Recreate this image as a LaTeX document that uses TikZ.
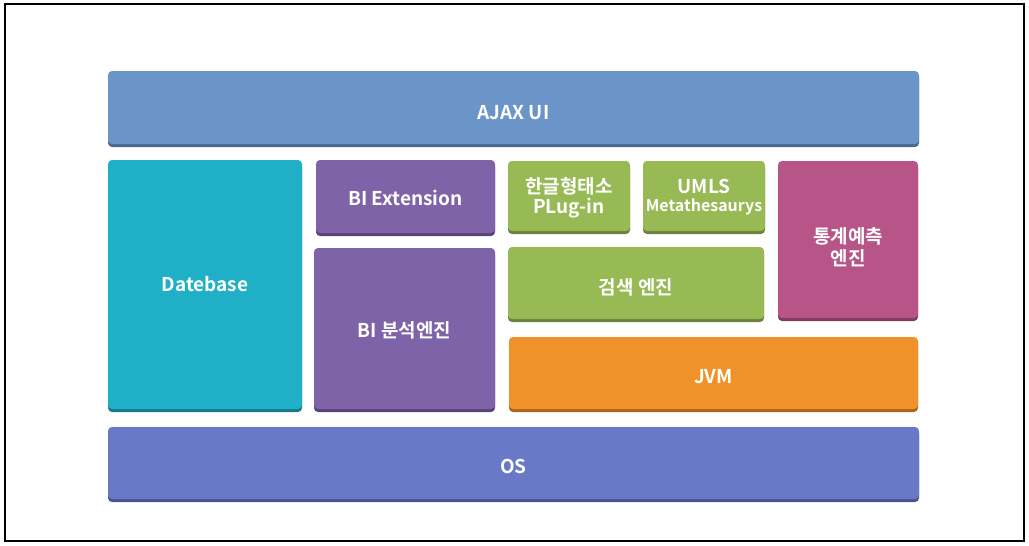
\documentclass[tikz,border=0pt]{standalone}
\usepackage{fontspec}
\setmainfont{Noto Sans CJK KR}[BoldFont={Noto Sans CJK KR Bold}]
\begin{document}
\begin{tikzpicture}[x=1pt,y=-1pt,
  blk/.style={rounded corners=4pt, text=white, font=\bfseries\fontsize{19}{22}\selectfont, align=center},
]
\definecolor{cajax}{HTML}{6B95C8}
\definecolor{cdb}{HTML}{1FAFC6}
\definecolor{cbi}{HTML}{7E63A8}
\definecolor{cgr}{HTML}{97BA55}
\definecolor{cpk}{HTML}{B75589}
\definecolor{cor}{HTML}{F0922A}
\definecolor{cos}{HTML}{6A78C8}
\useasboundingbox (0,0) rectangle (1029,546);
\draw[line width=1.5pt] (5,4) rectangle (1024,541);
\newcommand{\blkbox}[6]{%
  \fill[#5!70!black, rounded corners=4pt] (#1,#2+3) rectangle (#3,#4+3);
  \fill[#5, rounded corners=4pt] (#1,#2) rectangle (#3,#4);
  \node[blk] (#6) at ({(#1+#3)/2},{(#2+#4)/2}) {};
}
\blkbox{108}{71}{919}{144}{cajax}{ajax}
\node[blk, yshift=-5pt] at (ajax) {AJAX UI};
\blkbox{108}{160}{302}{409}{cdb}{db}
\node[blk] at (db) {Datebase};
\blkbox{316}{160}{495}{233}{cbi}{biext}
\node[blk, yshift=-1pt] at (biext) {BI Extension};
\blkbox{314}{248}{495}{409}{cbi}{bieng}
\node[blk, yshift=-2pt] at (bieng) {BI 분석엔진};
\blkbox{508}{161}{630}{231}{cgr}{kor}
\node[blk, yshift=-2pt] at (kor) {한글형태소\\[-2pt]PLug-in};
\blkbox{643}{161}{765}{231}{cgr}{umls}
\node[blk, yshift=-1pt] at (umls) {UMLS\\[-4pt]{\fontsize{16}{18}\selectfont Metathesaurys}};
\blkbox{778}{161}{918}{318}{cpk}{stat}
\node[blk, yshift=-8pt] at (stat) {통계예측\\[0pt]엔진};
\blkbox{508}{247}{764}{319}{cgr}{search}
\node[blk, yshift=-4pt] at (search) {검색 엔진};
\blkbox{509}{337}{918}{409}{cor}{jvm}
\node[blk, yshift=-4pt] at (jvm) {JVM};
\blkbox{108}{427}{919}{499}{cos}{os}
\node[blk, yshift=-3pt] at (os) {OS};
\end{tikzpicture}
\end{document}
